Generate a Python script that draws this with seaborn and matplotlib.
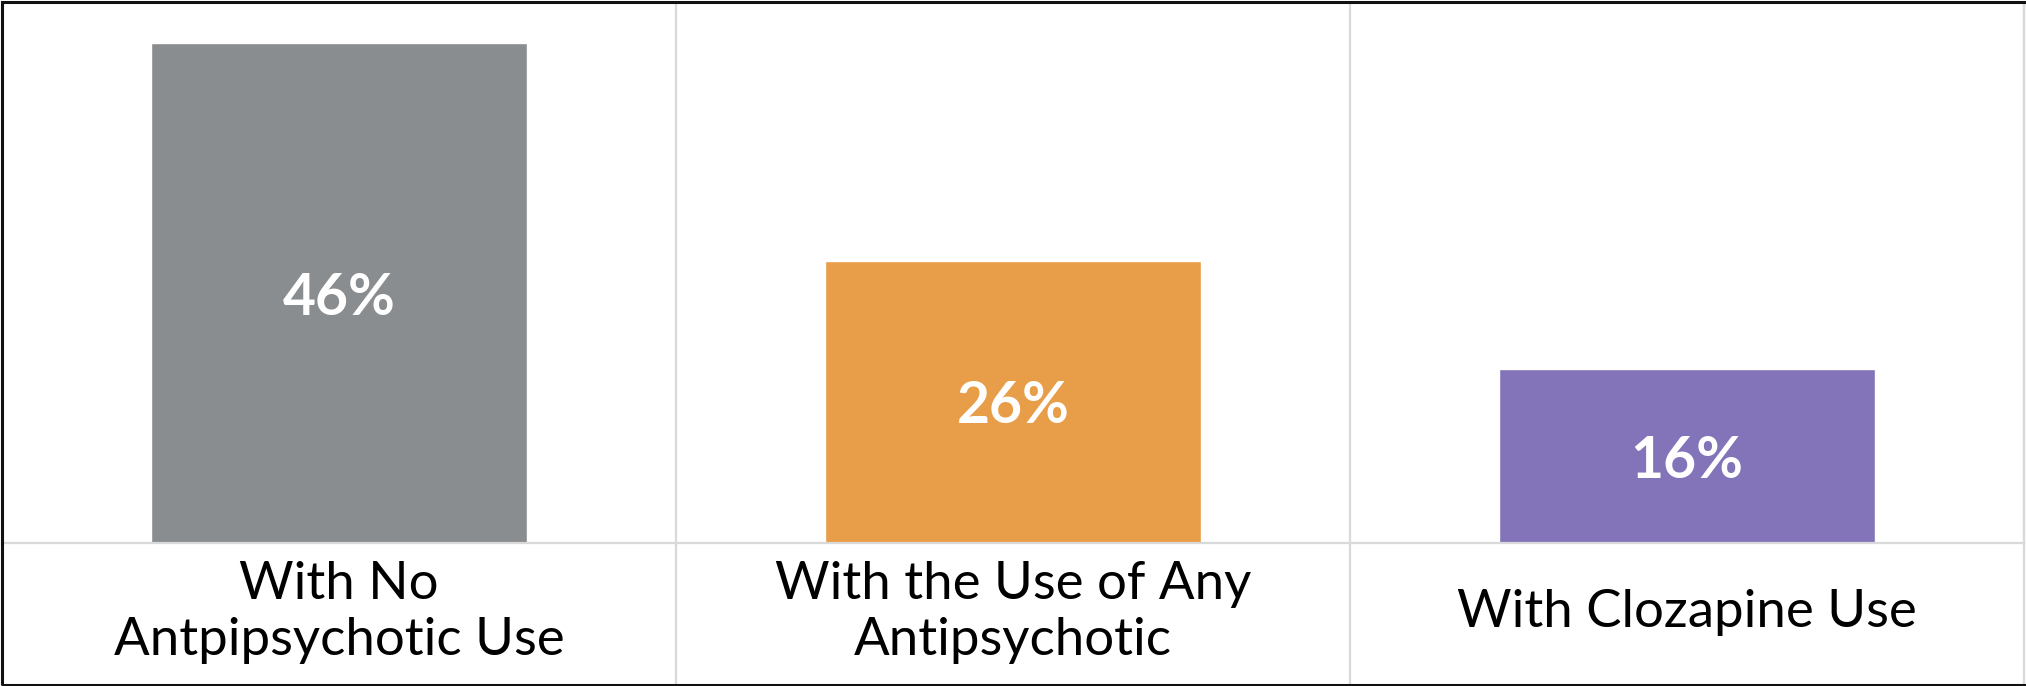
import matplotlib
matplotlib.use("Agg")
import matplotlib.pyplot as plt
import seaborn as sns
import pandas as pd
from matplotlib.patches import Rectangle

# Share of patients in each group
categories = ["With No\nAntpipsychotic Use",
              "With the Use of Any\nAntipsychotic",
              "With Clozapine Use"]
values = [46, 26, 16]
value_labels = ["46%", "26%", "16%"]
colors = ["#8A8D90", "#E89D48", "#8373B8"]

sns.set_theme(style="white")
plt.rcParams["font.family"] = ["Lato", "DejaVu Sans"]

W, H = 2026, 686
fig = plt.figure(figsize=(W / 100, H / 100), dpi=100)
fig.patch.set_facecolor("white")

# plot region: x 2..2024 px, y 3..543 px from top
ax = fig.add_axes([2 / W, (H - 543) / H, 2022 / W, 540 / H])

df = pd.DataFrame({"group": categories, "pct": values})
sns.barplot(data=df, x="group", y="pct", hue="group", palette=colors,
            width=0.558, saturation=1, legend=False, ax=ax)

ax.set_xlim(-0.5, 2.5)
ax.set_ylim(0, 49.7)
ax.set_yticks([])
ax.set_xlabel("")
ax.set_ylabel("")

grid_color = "#D9D9D9"
for side in ["left", "top"]:
    ax.spines[side].set_visible(False)
ax.spines["bottom"].set_color(grid_color)
ax.spines["bottom"].set_linewidth(1.6)
ax.spines["right"].set_color(grid_color)
ax.spines["right"].set_linewidth(1.6)

# column separators running through the label row
label_row = 141 / 540
for xpos in [0.5, 1.5, 2.5]:
    ax.plot([xpos, xpos], [-label_row, 1.0], color=grid_color, lw=1.6,
            transform=ax.get_xaxis_transform(), clip_on=False, zorder=0)

# category labels centred in the label row
ax.set_xticks(range(len(categories)))
ax.set_xticklabels(categories, fontsize=38, color="#000000", linespacing=1.22)
ax.tick_params(axis="x", length=0, pad=50)
for lbl in ax.get_xticklabels():
    lbl.set_verticalalignment("center")

# value labels inside bars
for i, (v, txt) in enumerate(zip(values, value_labels)):
    ax.text(i, v / 2, txt, ha="center", va="center_baseline", color="white",
            fontsize=41, fontweight="bold")

# outer frame
fig.patches.append(Rectangle((2 / W, 1.5 / H), 2030 / W, (H - 3.5) / H,
                             transform=fig.transFigure, fill=False,
                             edgecolor="#111111", lw=2.2, zorder=10))

fig.savefig("out.png", dpi=100, facecolor="white")
